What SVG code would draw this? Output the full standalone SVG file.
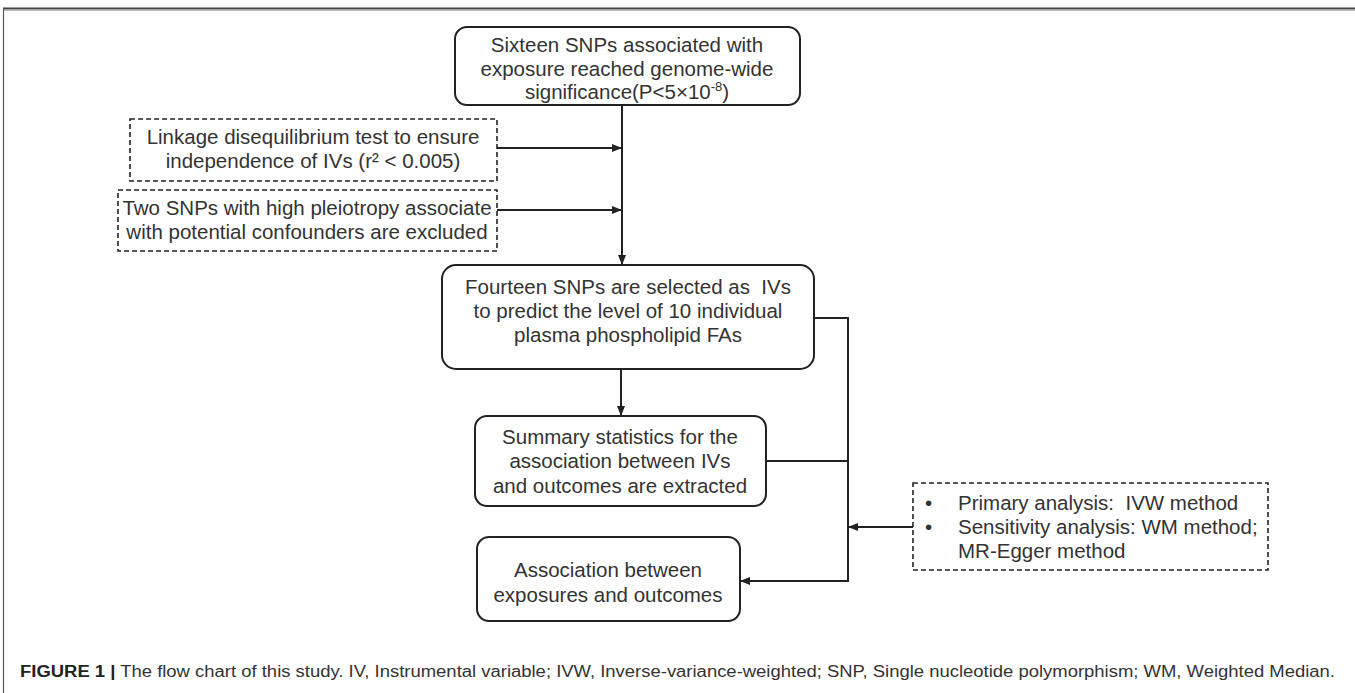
<svg xmlns="http://www.w3.org/2000/svg" width="1355" height="693" viewBox="0 0 1355 693">
<style>
.box{fill:#fff;stroke:#222;stroke-width:2}
.dbox{fill:#fff;stroke:#222;stroke-width:1.6;stroke-dasharray:5 3}
.t{font-family:"Liberation Sans",Arial,sans-serif;font-size:20.5px;fill:#333;text-anchor:middle;white-space:pre}
.tl{font-family:"Liberation Sans",Arial,sans-serif;font-size:20.5px;fill:#333;white-space:pre}
.ln{fill:none;stroke:#222;stroke-width:2}
.cap{font-family:"Liberation Sans",Arial,sans-serif;font-size:16px;fill:#333}
</style>
<defs>
<marker id="ah" markerWidth="10" markerHeight="8" refX="9" refY="4" orient="auto" markerUnits="userSpaceOnUse">
<path d="M0,0 L10,4 L0,8 Z" fill="#222"/>
</marker>
</defs>
<rect width="1355" height="693" fill="#fff"/>
<g id="frame">
<line x1="3" y1="8.5" x2="1355" y2="8.5" stroke="#444" stroke-width="2"/>
<line x1="3" y1="10.5" x2="1355" y2="10.5" stroke="#bbb" stroke-width="1"/>
<line x1="3.5" y1="8" x2="3.5" y2="693" stroke="#555" stroke-width="1.2"/>
</g>
<g id="connectors">
<line class="ln" x1="622" y1="105" x2="622" y2="264" marker-end="url(#ah)"/>
<line class="ln" x1="497" y1="148" x2="621" y2="148" marker-end="url(#ah)"/>
<line class="ln" x1="497" y1="210" x2="621" y2="210" marker-end="url(#ah)"/>
<line class="ln" x1="621" y1="369" x2="621" y2="415" marker-end="url(#ah)"/>
<polyline class="ln" points="814,318 848,318 848,581 741,581" marker-end="url(#ah)"/>
<line class="ln" x1="766" y1="461" x2="848" y2="461"/>
<line class="ln" x1="913" y1="527" x2="849" y2="527" marker-end="url(#ah)"/>
</g>
<g id="n1">
<rect class="box" x="455" y="27" width="345" height="78" rx="12"/>
<text class="t" x="627" y="52">Sixteen SNPs associated with</text>
<text class="t" x="627" y="76">exposure reached genome-wide</text>
<text class="t" x="627" y="99">significance(P&lt;5×10<tspan font-size="13" dy="-8">-8</tspan><tspan dy="8">)</tspan></text>
</g>
<g id="n2">
<rect class="dbox" x="130" y="119" width="367" height="62"/>
<text class="t" x="313" y="144">Linkage disequilibrium test to ensure</text>
<text class="t" x="313" y="168">independence of IVs (r² &lt; 0.005)</text>
</g>
<g id="n3">
<rect class="dbox" x="118" y="190" width="379" height="61"/>
<text class="t" x="307" y="215">Two SNPs with high pleiotropy associate</text>
<text class="t" x="307" y="239">with potential confounders are excluded</text>
</g>
<g id="n4">
<rect class="box" x="442" y="265" width="372" height="104" rx="14"/>
<text class="t" x="628" y="294">Fourteen SNPs are selected as  IVs</text>
<text class="t" x="628" y="318">to predict the level of 10 individual</text>
<text class="t" x="628" y="342">plasma phospholipid FAs</text>
</g>
<g id="n5">
<rect class="box" x="475" y="416" width="291" height="90" rx="12"/>
<text class="t" x="620" y="444">Summary statistics for the</text>
<text class="t" x="620" y="468">association between IVs</text>
<text class="t" x="620" y="493">and outcomes are extracted</text>
</g>
<g id="n6">
<rect class="box" x="477" y="537" width="263" height="84" rx="12"/>
<text class="t" x="608" y="577">Association between</text>
<text class="t" x="608" y="602">exposures and outcomes</text>
</g>
<g id="n7">
<rect class="dbox" x="913" y="483" width="355" height="87"/>
<text class="tl" x="925" y="510">•</text>
<text class="tl" x="958" y="510">Primary analysis:  IVW method</text>
<text class="tl" x="925" y="534">•</text>
<text class="tl" x="958" y="534">Sensitivity analysis: WM method;</text>
<text class="tl" x="958" y="558">MR-Egger method</text>
</g>
<g id="caption">
<text class="cap" x="20" y="677" textLength="1315" lengthAdjust="spacingAndGlyphs"><tspan font-weight="bold" fill="#222">FIGURE 1 |</tspan> The flow chart of this study. IV, Instrumental variable; IVW, Inverse-variance-weighted; SNP, Single nucleotide polymorphism; WM, Weighted Median.</text>
</g>
</svg>
